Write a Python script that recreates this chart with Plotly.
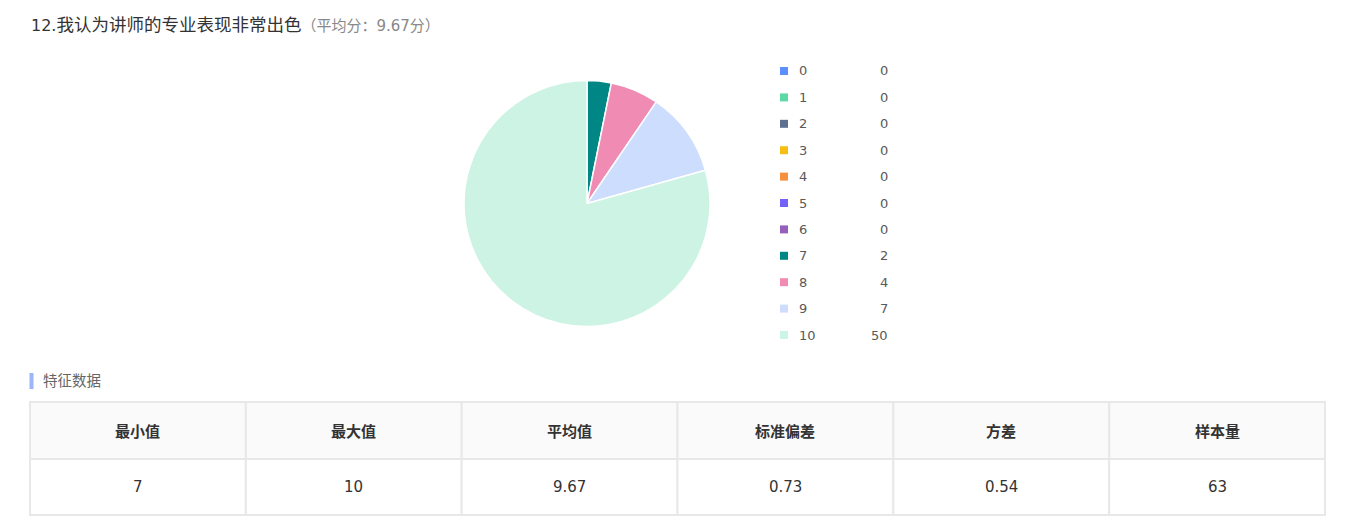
import plotly.graph_objects as go

W, H = 1355, 529

# ---- data ----
categories = ["0", "1", "2", "3", "4", "5", "6", "7", "8", "9", "10"]
counts = [0, 0, 0, 0, 0, 0, 0, 2, 4, 7, 50]
colors = ["#5B8FF9", "#5AD8A6", "#5D7092", "#F6BD16", "#F6903D", "#7262FD",
          "#9661BC", "#008685", "#F08BB4", "#CDDDFD", "#CDF3E4"]
title_num = "12."
title_main = "我认为讲师的专业表现非常出色"
title_sub = "（平均分：9.67分）"
section_label = "特征数据"
stat_headers = ["最小值", "最大值", "平均值", "标准偏差", "方差", "样本量"]
stat_values = ["7", "10", "9.67", "0.73", "0.54", "63"]

FONT = "DejaVu Sans, Noto Sans CJK SC"


def px(x):
    return x / W


def py(y):
    return 1 - y / H


fig = go.Figure()

fig.add_trace(go.Pie(
    labels=categories, values=counts, sort=False, direction="clockwise",
    rotation=0, marker=dict(colors=colors, line=dict(color="white", width=1.5)),
    textinfo="none", showlegend=False,
    domain=dict(x=[px(464), px(710)], y=[py(327), py(80)]),
))

shapes = []
annotations = []

# title
annotations.append(dict(
    x=px(28.5), y=py(25), xref="paper", yref="paper", xanchor="left", yanchor="middle",
    showarrow=False,
    text=f"<span style='font-size:16px'>{title_num}</span>"
         f"<span style='font-size:17.5px'>{title_main}</span>"
         f"<span style='font-size:15px;color:#888888'>{title_sub}</span>",
    font=dict(family=FONT, size=16, color="#333333"),
))

# legend (custom, with values column)
y0, step = 71, 26.4
for i, (c, v, col) in enumerate(zip(categories, counts, colors)):
    yc = y0 + i * step
    shapes.append(dict(type="rect", xref="paper", yref="paper",
                       x0=px(780), x1=px(788), y0=py(yc + 4), y1=py(yc - 4),
                       fillcolor=col, line=dict(width=0)))
    annotations.append(dict(x=px(797), y=py(yc), xref="paper", yref="paper",
                            xanchor="left", yanchor="middle", showarrow=False,
                            text=c, font=dict(family=FONT, size=13, color="#595959")))
    annotations.append(dict(x=px(890), y=py(yc), xref="paper", yref="paper",
                            xanchor="right", yanchor="middle", showarrow=False,
                            text=str(v), font=dict(family=FONT, size=13, color="#595959")))

# section label
shapes.append(dict(type="rect", xref="paper", yref="paper",
                   x0=px(29.5), x1=px(33.5), y0=py(389), y1=py(373),
                   fillcolor="#9DB5F9", line=dict(width=0)))
annotations.append(dict(x=px(41), y=py(381), xref="paper", yref="paper",
                        xanchor="left", yanchor="middle", showarrow=False,
                        text=section_label, font=dict(family=FONT, size=14.5, color="#666666")))

# stats table
tx0, tx1 = 30, 1325
hy0, hy1, cy1 = 402, 459, 515
ncol = len(stat_headers)
cw = (tx1 - tx0) / ncol
for j, (h, v) in enumerate(zip(stat_headers, stat_values)):
    x0 = tx0 + j * cw
    x1 = x0 + cw
    shapes.append(dict(type="rect", xref="paper", yref="paper",
                       x0=px(x0), x1=px(x1), y0=py(hy1), y1=py(hy0),
                       fillcolor="#FAFAFA", line=dict(color="#E8E8E8", width=2),
                       layer="below"))
    shapes.append(dict(type="rect", xref="paper", yref="paper",
                       x0=px(x0), x1=px(x1), y0=py(cy1), y1=py(hy1),
                       fillcolor="white", line=dict(color="#E8E8E8", width=2),
                       layer="below"))
    annotations.append(dict(x=px((x0 + x1) / 2), y=py((hy0 + hy1) / 2 + 1),
                            xref="paper", yref="paper", xanchor="center",
                            yanchor="middle", showarrow=False,
                            text=f"<b>{h}</b>",
                            font=dict(family=FONT, size=15, color="#333333")))
    annotations.append(dict(x=px((x0 + x1) / 2), y=py((hy1 + cy1) / 2),
                            xref="paper", yref="paper", xanchor="center",
                            yanchor="middle", showarrow=False,
                            text=v,
                            font=dict(family=FONT, size=15, color="#333333")))

fig.update_layout(
    width=W, height=H, margin=dict(l=0, r=0, t=0, b=0),
    paper_bgcolor="white", plot_bgcolor="white",
    font=dict(family=FONT),
    shapes=shapes, annotations=annotations,
)

fig.write_html("out.html", config={"displayModeBar": False},
               post_script="document.body.style.margin='0px';")
